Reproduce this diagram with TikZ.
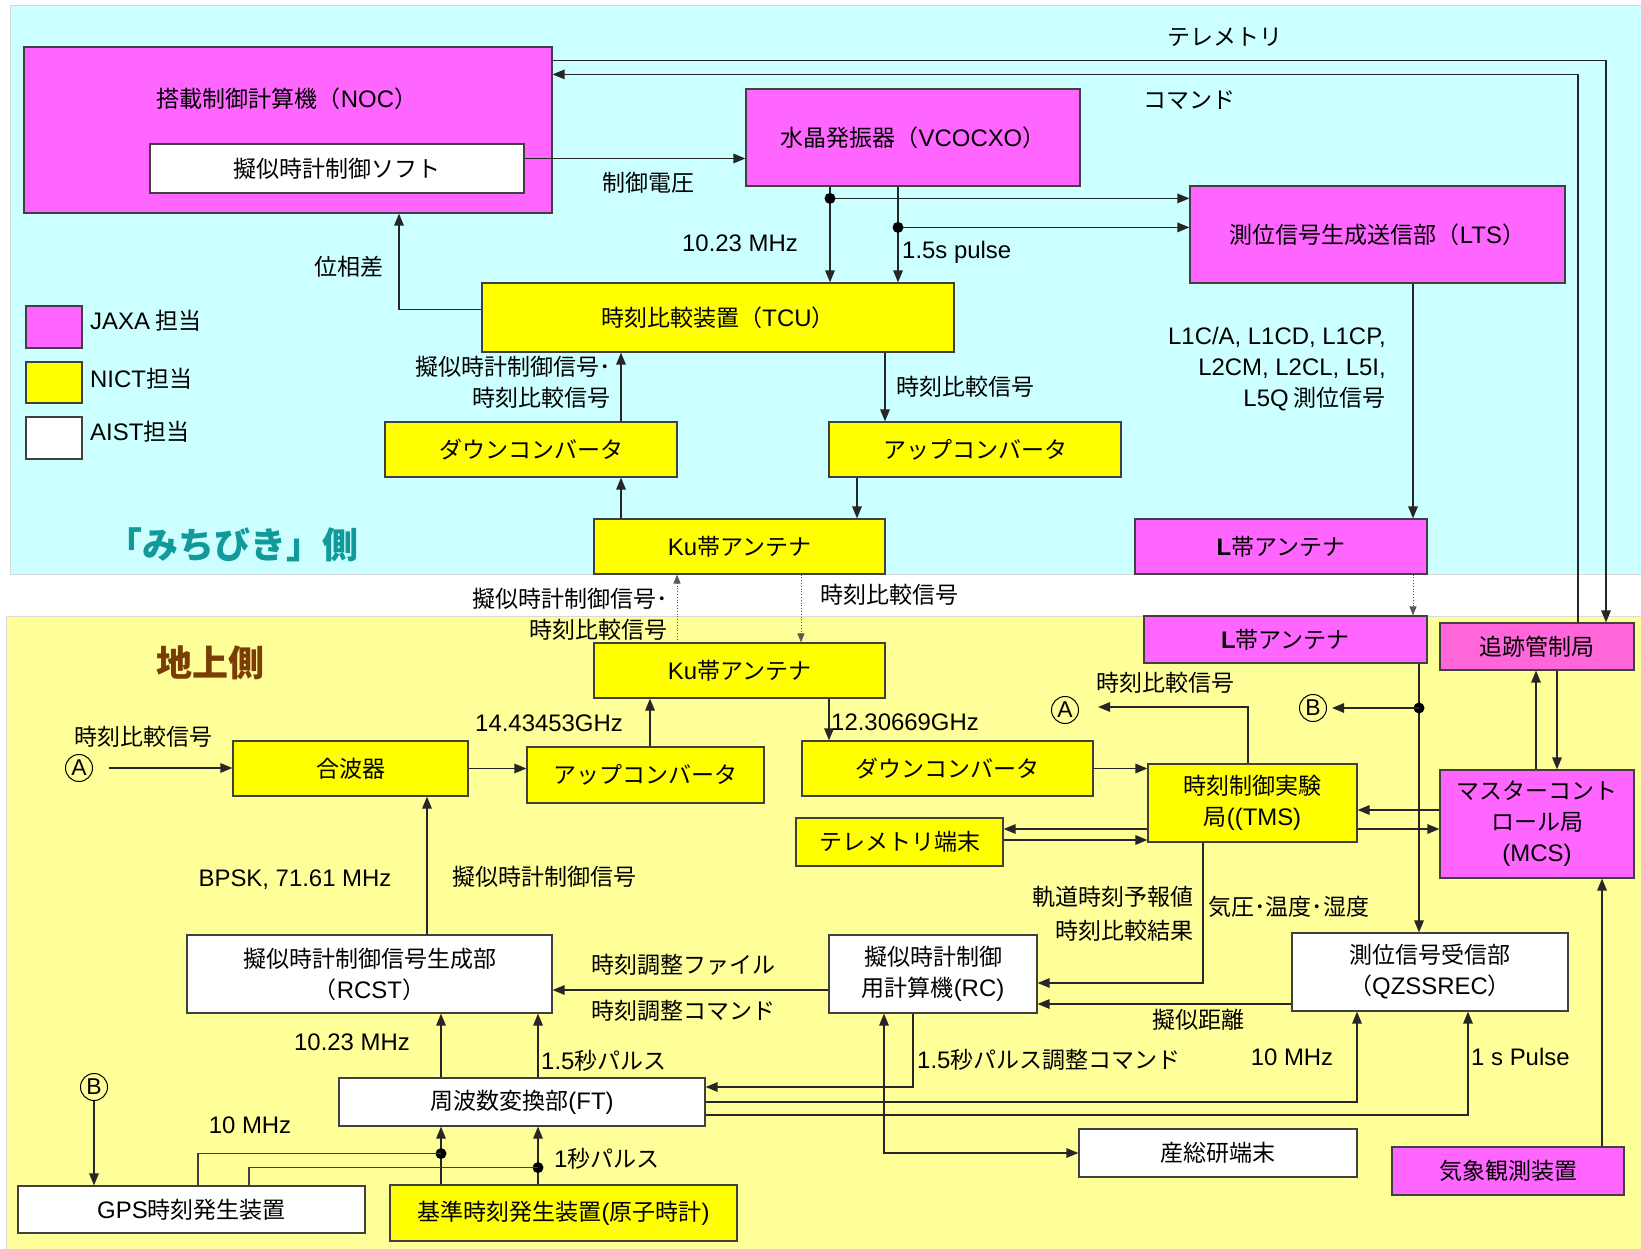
\documentclass[tikz,border=0pt]{standalone}
\usepackage{fontspec}
\setmainfont{Noto Sans CJK JP}
\newfontfamily\latfont[Scale=1.04]{Liberation Sans}
\newcommand{\ltn}[1]{{\latfont #1}}
\newcommand{\jpf}{\fontsize{23}{31}\selectfont}
\usetikzlibrary{arrows.meta}
\definecolor{mag}{HTML}{FF66FF}
\definecolor{pnk}{HTML}{FF66D9}
\definecolor{yel}{HTML}{FFFF00}
\definecolor{cyanbg}{HTML}{CCFFFF}
\definecolor{yelbg}{HTML}{FFFF99}
\definecolor{tealtxt}{HTML}{129999}
\definecolor{browntxt}{HTML}{7A3D05}
\tikzset{
  box/.style={draw=black!75, line width=1.2pt, inner sep=0pt, align=center, font=\jpf},
  lbl/.style={inner sep=0pt, font=\jpf, align=center},
  arr/.style={line width=1.5pt, draw=black!85, -{Triangle[length=12pt,width=9.5pt]}},
  darr/.style={line width=0.8pt, draw=black!65, dotted, -{Triangle[length=9pt,width=7pt]}},
  ln/.style={line width=1.2pt, draw=black!75},
  circ/.style={circle, draw=black, line width=1pt, inner sep=0pt, minimum size=27pt, font=\fontsize{22}{22}\selectfont},
  dot/.style={fill=black}
}
\newcommand{\bx}[7]{\node[box,fill=#6,minimum width={#4-#2},minimum height={#5-#3}] (#1) at ({(#2+#4)/2},{(#3+#5)/2}) {#7};}
\begin{document}
\begin{tikzpicture}[x=1pt,y=-1pt]
\useasboundingbox (0,0) rectangle (1641,1249);
\fill[white] (0,0) rectangle (1641,1249);
\filldraw[fill=cyanbg, draw=black!15] (10,5) rectangle (1641,574);
\filldraw[fill=yelbg, draw=black!15] (6,616) rectangle (1641,1249);

% boxes
\bx{noc}{24}{47}{552}{213}{mag}{}
\node[lbl] (noct) at (287,99) {搭載制御計算機（\ltn{NOC}）};
\bx{soft}{150}{144}{524}{193}{white}{擬似時計制御ソフト}
\bx{vco}{746}{89}{1080}{186}{mag}{水晶発振器（\ltn{VCOCXO}）}
\bx{lts}{1190}{186}{1565}{283}{mag}{測位信号生成送信部（\ltn{LTS}）}
\bx{tcu}{482}{283}{954}{352}{yel}{時刻比較装置（\ltn{TCU}）}
\bx{dcs}{385}{422}{677}{477}{yel}{ダウンコンバータ}
\bx{ucs}{829}{422}{1121}{477}{yel}{アップコンバータ}
\bx{kus}{594}{519}{885}{574}{yel}{\ltn{Ku}帯アンテナ}
\bx{las}{1135}{519}{1427}{574}{mag}{\ltn{\bfseries L}帯アンテナ}
\bx{kug}{594}{643}{885}{698}{yel}{\ltn{Ku}帯アンテナ}
\bx{lag}{1144}{616}{1427}{663}{mag}{\ltn{\bfseries L}帯アンテナ}
\bx{trk}{1440}{623}{1634}{670}{pnk}{追跡管制局}
\bx{comb}{233}{741}{468}{796}{yel}{合波器}
\bx{ucg}{527}{747}{764}{803}{yel}{アップコンバータ}
\bx{dcg}{802}{741}{1093}{796}{yel}{ダウンコンバータ}
\bx{tms}{1148}{764}{1357}{842}{yel}{時刻制御実験\\局\ltn{((TMS)}}
\bx{tlm}{796}{818}{1003}{866}{yel}{テレメトリ端末}
\bx{mcs}{1440}{770}{1634}{878}{mag}{マスターコント\\ロール局\\\ltn{(MCS)}}
\bx{rcst}{187}{935}{552}{1013}{white}{擬似時計制御信号生成部\\（\ltn{RCST}）}
\bx{rc}{829}{935}{1037}{1013}{white}{擬似時計制御\\用計算機\ltn{(RC)}}
\bx{qzs}{1292}{933}{1568}{1011}{white}{測位信号受信部\\（\ltn{QZSSREC}）}
\bx{ft}{339}{1078}{705}{1126}{white}{周波数変換部\ltn{(FT)}}
\bx{aist}{1079}{1129}{1357}{1177}{white}{産総研端末}
\bx{wx}{1392}{1147}{1624}{1195}{mag}{気象観測装置}
\bx{gps}{18}{1186}{365}{1233}{white}{\ltn{GPS}時刻発生装置}
\bx{clk}{390}{1185}{737}{1241}{yel}{基準時刻発生装置\ltn{(}原子時計\ltn{)}}

% legend
\bx{lgj}{26}{306}{82}{348}{mag}{}
\bx{lgn}{26}{362}{82}{403}{yel}{}
\bx{lga}{26}{417}{82}{459}{white}{}
\node[lbl, anchor=west] (lgjt) at (90,321) {\ltn{JAXA} 担当};
\node[lbl, anchor=west] (lgnt) at (90,379) {\ltn{NICT}担当};
\node[lbl, anchor=west] (lgat) at (90,432) {\ltn{AIST}担当};

% titles
\node[inner sep=0pt, font=\fontsize{36}{40}\selectfont\bfseries, text=tealtxt] (ttop) at (232,545) {「みちびき」側};
\node[inner sep=0pt, font=\fontsize{36}{40}\selectfont\bfseries, text=browntxt] (tbot) at (210,663) {地上側};

% circles
\node[circ] (A1) at (79,768) {\ltn{A}};
\node[circ] (A2) at (1065,710) {\ltn{A}};
\node[circ] (B1) at (1313,708) {\ltn{B}};
\node[circ] (B2) at (94,1087) {\ltn{B}};

% connectors
\draw[arr] ([yshift=10pt]soft.east) coordinate (s1) -- (s1 -| vco.west);
\draw[arr] ([yshift=-14pt]noc.north east) -| ([xshift=69pt]trk.north);
\draw[arr] ([xshift=41pt]trk.north) |- ([yshift=-28pt]noc.north east);

\draw[arr] ([xshift=-83pt]vco.south) coordinate (v1) -- (v1 |- tcu.north);
\draw[arr] ([xshift=-15pt]vco.south) coordinate (v2) -- (v2 |- tcu.north);
\path ([yshift=-13pt]lts.north west) coordinate (ly1) ([yshift=-42pt]lts.north west) coordinate (ly2);
\draw[arr] (v1 |- ly1) -- (ly1);
\draw[arr] (v2 |- ly2) -- (ly2);
\fill[dot] (v1 |- ly1) circle (5.5pt);
\fill[dot] (v2 |- ly2) circle (5.5pt);

\draw[arr] ([yshift=-27pt]tcu.north west) -| ([xshift=111pt]noc.south);
\draw[arr] ([xshift=90pt]dcs.north) coordinate (a1) -- (a1 |- tcu.south);
\draw[arr] ([xshift=-118.5pt]kus.north) coordinate (a2) -- (a2 |- dcs.south);
\draw[arr] ([xshift=167pt]tcu.south) coordinate (a3) -- (a3 |- ucs.north);
\draw[arr] ([xshift=-118pt]ucs.south) coordinate (a4) -- (a4 |- kus.north);
\draw[arr] ([xshift=35.5pt]lts.south) coordinate (a5) -- (a5 |- las.north);
\draw[darr] (a5 |- las.south) -- (a5 |- lag.north);
\draw[darr] ([xshift=-62.5pt]kug.north) coordinate (a6) -- (a6 |- kus.south);
\draw[darr] ([xshift=61.5pt]kus.south) coordinate (a7) -- (a7 |- kug.north);
\draw[arr] ([xshift=4.5pt]ucg.north) coordinate (a8) -- (a8 |- kug.south);
\draw[arr] ([xshift=89.5pt]kug.south) coordinate (a9) -- (a9 |- dcg.north);
\draw[arr] (comb.east) -- (comb.east -| ucg.west);
\draw[arr] ([xshift=16pt]A1.east) -- (A1.east -| comb.west);
\draw[arr] ([xshift=57.5pt]rcst.north) coordinate (b1) -- (b1 |- comb.south);
\draw[arr] (dcg.east) -- (dcg.east -| tms.west);
\draw[arr] ([yshift=-26pt]tms.west) coordinate (t1) -- (t1 -| tlm.east);
\path ([yshift=-37pt]tms.west) coordinate (t2);
\draw[arr] (t2 -| tlm.east) -- (t2);
\draw[arr] ([xshift=-4.5pt]tms.north) |- ([xshift=19pt,yshift=3pt]A2.east);
\draw[arr] ([xshift=133.5pt]lag.south) coordinate (q0) -- (q0 |- qzs.north);
\fill[dot] (q0 |- B1) circle (5.5pt);
\draw[arr] (q0 |- B1) -- ([xshift=5pt]B1.east);
\draw[arr] ([xshift=-1pt]mcs.north) -- ([xshift=-1pt]trk.south);
\draw[arr] ([xshift=20pt]trk.south) -- ([xshift=20pt]mcs.north);
\path ([yshift=-7pt]tms.east) coordinate (m1) ([yshift=-26pt]tms.east) coordinate (m2);
\draw[arr] (m1 -| mcs.west) -- (m1);
\draw[arr] (m2) -- (m2 -| mcs.west);
\draw[arr] ([xshift=94pt]wx.north) coordinate (w1) -- (w1 |- mcs.south);
\draw[arr] ([yshift=-16pt]rc.west) coordinate (r1) -- (r1 -| rcst.east);
\draw[arr] ([xshift=-49.5pt]tms.south) |- ([yshift=-9pt]rc.east);
\draw[arr] ([yshift=-32pt]qzs.west) coordinate (q1) -- (q1 -| rc.east);
\draw[arr] ([xshift=-81pt]ft.north) coordinate (f1) -- (f1 |- rcst.south);
\draw[arr] ([xshift=16pt]ft.north) coordinate (f2) -- (f2 |- rcst.south);
\draw[arr] ([xshift=-20pt]rc.south) |- ([yshift=15pt]ft.east);
\draw[arr] (ft.east) -| ([xshift=-73pt]qzs.south);
\draw[arr] ([yshift=-13pt]ft.east) -| ([xshift=38pt]qzs.south);
\draw[arr, {Triangle[length=12pt,width=9.5pt]}-{Triangle[length=12pt,width=9.5pt]}] ([xshift=-49pt]rc.south) |- (aist.west);
\draw[arr] (B2.south) -- (B2.south |- gps.north);
\draw[arr] ([xshift=-122.5pt]clk.north) coordinate (c1) -- (c1 |- ft.south);
\draw[arr] ([xshift=-25.5pt]clk.north) coordinate (c2) -- (c2 |- ft.south);
\path ([yshift=-27pt]ft.south) coordinate (yd1) ([yshift=-41pt]ft.south) coordinate (yd2);
\fill[dot] (c1 |- yd1) circle (5.5pt);
\fill[dot] (c2 |- yd2) circle (5.5pt);
\draw[ln] ([xshift=6.5pt]gps.north) |- (c1 |- yd1);
\draw[ln] ([xshift=57.5pt]gps.north) |- (c2 |- yd2);

% labels
\node[lbl] (l1) at (1225,37) {テレメトリ};
\node[lbl] (l2) at (1189,100) {コマンド};
\node[lbl] (l3) at (648,183) {制御電圧};
\node[lbl] (l4) at (740,243) {\ltn{10.23 MHz}};
\node[lbl, anchor=west] (l5) at (902,252) {\ltn{1.5s pulse}};
\node[lbl] (l6) at (349,267) {位相差};
\node[lbl, anchor=east, align=right] (l7) at (611,382) {擬似時計制御信号･\\時刻比較信号};
\node[lbl, anchor=west] (l8) at (896,387) {時刻比較信号};
\node[lbl, anchor=east, align=right] (l9) at (1386,369) {\ltn{L1C/A, L1CD, L1CP,}\\\ltn{L2CM, L2CL, L5I,}\\\ltn{L5Q} 測位信号};
\node[lbl, anchor=east, align=right] (l10) at (668,614) {擬似時計制御信号･\\時刻比較信号};
\node[lbl, anchor=west] (l11) at (820,595) {時刻比較信号};
\node[lbl] (l12) at (143,737) {時刻比較信号};
\node[lbl] (l13) at (549,723) {\ltn{14.43453GHz}};
\node[lbl, anchor=west] (l14) at (831,722) {\ltn{12.30669GHz}};
\node[lbl] (l15) at (1165,683) {時刻比較信号};
\node[lbl] (l16) at (295,880) {\ltn{BPSK, 71.61 MHz}};
\node[lbl] (l17) at (544,877) {擬似時計制御信号};
\node[lbl, anchor=east] (l18) at (1194,897) {軌道時刻予報値};
\node[lbl, anchor=east] (l19) at (1194,931) {時刻比較結果};
\node[lbl, anchor=west] (l20) at (1208,907) {気圧･温度･湿度};
\node[lbl] (l21) at (683,965) {時刻調整ファイル};
\node[lbl] (l22) at (683,1011) {時刻調整コマンド};
\node[lbl] (l23) at (1198,1020) {擬似距離};
\node[lbl] (l24) at (352,1042) {\ltn{10.23 MHz}};
\node[lbl, anchor=west] (l25) at (541,1061) {\ltn{1.5}秒パルス};
\node[lbl, anchor=west] (l26) at (917,1060) {\ltn{1.5}秒パルス調整コマンド};
\node[lbl] (l27) at (1292,1057) {\ltn{10 MHz}};
\node[lbl, anchor=west] (l28) at (1471,1057) {\ltn{1 s Pulse}};
\node[lbl] (l29) at (250,1125) {\ltn{10 MHz}};
\node[lbl, anchor=west] (l30) at (554,1159) {\ltn{1}秒パルス};
\end{tikzpicture}
\end{document}
